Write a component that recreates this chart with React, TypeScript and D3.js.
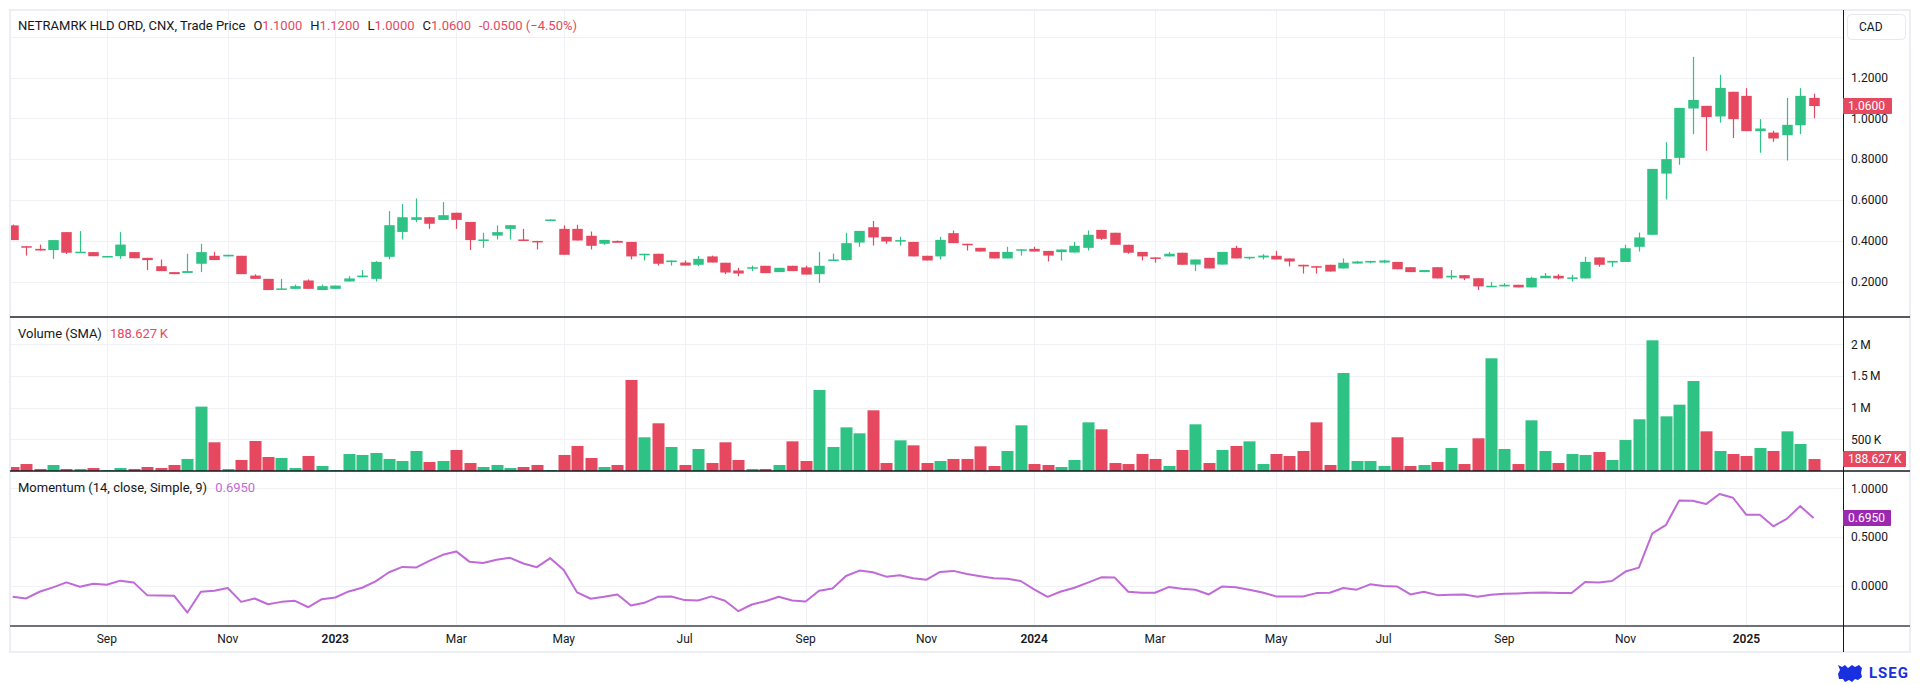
import * as React from 'react';
import * as d3 from 'd3';

// weekly bars, NETRAMRK HLD ORD (CNX), Jul 2022 .. Feb 2025
const opens = [
    0.475, 0.373, 0.360, 0.354, 0.442, 0.343, 0.344, 0.322, 0.324, 0.344,
    0.316, 0.275, 0.246, 0.242, 0.287, 0.326, 0.323, 0.326, 0.229, 0.213,
    0.164, 0.164, 0.205, 0.158, 0.164, 0.200, 0.221, 0.213, 0.321, 0.443,
    0.502, 0.515, 0.502, 0.537, 0.492, 0.400, 0.425, 0.458, 0.406, 0.399,
    0.502, 0.458, 0.458, 0.424, 0.385, 0.399, 0.394, 0.329, 0.336, 0.295,
    0.293, 0.282, 0.323, 0.292, 0.254, 0.264, 0.277, 0.246, 0.277, 0.269,
    0.236, 0.303, 0.305, 0.391, 0.466, 0.419, 0.396, 0.394, 0.326, 0.323,
    0.437, 0.385, 0.365, 0.345, 0.313, 0.352, 0.360, 0.350, 0.344, 0.342,
    0.365, 0.453, 0.439, 0.380, 0.345, 0.318, 0.323, 0.341, 0.283, 0.316,
    0.283, 0.365, 0.314, 0.318, 0.326, 0.313, 0.282, 0.275, 0.282, 0.264,
    0.288, 0.293, 0.293, 0.296, 0.270, 0.246, 0.270, 0.220, 0.231, 0.216,
    0.176, 0.176, 0.184, 0.171, 0.216, 0.228, 0.215, 0.215, 0.318, 0.293,
    0.296, 0.370, 0.429, 0.729, 0.806, 1.048, 1.061, 1.009, 1.130, 1.110,
    0.937, 0.930, 0.917, 0.966, 1.100,
];
const highs = [
    0.479, 0.373, 0.381, 0.403, 0.442, 0.447, 0.344, 0.325, 0.442, 0.344,
    0.316, 0.308, 0.246, 0.336, 0.385, 0.345, 0.331, 0.326, 0.235, 0.213,
    0.213, 0.185, 0.210, 0.185, 0.180, 0.226, 0.256, 0.300, 0.545, 0.579,
    0.607, 0.515, 0.589, 0.537, 0.492, 0.439, 0.475, 0.476, 0.458, 0.399,
    0.505, 0.475, 0.478, 0.445, 0.404, 0.401, 0.394, 0.336, 0.336, 0.303,
    0.303, 0.324, 0.327, 0.292, 0.267, 0.278, 0.277, 0.267, 0.277, 0.277,
    0.345, 0.337, 0.439, 0.448, 0.497, 0.419, 0.419, 0.394, 0.326, 0.419,
    0.450, 0.385, 0.365, 0.345, 0.370, 0.358, 0.370, 0.350, 0.357, 0.394,
    0.450, 0.453, 0.439, 0.380, 0.345, 0.318, 0.345, 0.341, 0.308, 0.316,
    0.345, 0.375, 0.321, 0.334, 0.350, 0.313, 0.282, 0.275, 0.282, 0.313,
    0.301, 0.301, 0.306, 0.296, 0.270, 0.256, 0.270, 0.256, 0.231, 0.216,
    0.197, 0.192, 0.184, 0.223, 0.242, 0.236, 0.233, 0.321, 0.318, 0.301,
    0.380, 0.440, 0.752, 0.883, 1.051, 1.301, 1.061, 1.213, 1.130, 1.148,
    0.996, 0.939, 1.100, 1.148, 1.120,
];
const lows = [
    0.403, 0.327, 0.352, 0.311, 0.335, 0.343, 0.324, 0.322, 0.311, 0.314,
    0.256, 0.251, 0.236, 0.242, 0.246, 0.305, 0.323, 0.236, 0.213, 0.158,
    0.163, 0.164, 0.164, 0.158, 0.164, 0.200, 0.221, 0.200, 0.308, 0.406,
    0.491, 0.458, 0.502, 0.458, 0.354, 0.365, 0.406, 0.406, 0.399, 0.357,
    0.502, 0.331, 0.401, 0.357, 0.380, 0.390, 0.308, 0.303, 0.278, 0.278,
    0.278, 0.275, 0.293, 0.236, 0.226, 0.251, 0.241, 0.246, 0.251, 0.234,
    0.193, 0.303, 0.303, 0.370, 0.376, 0.385, 0.376, 0.323, 0.303, 0.308,
    0.388, 0.352, 0.347, 0.313, 0.313, 0.327, 0.347, 0.298, 0.303, 0.342,
    0.352, 0.404, 0.380, 0.336, 0.303, 0.292, 0.323, 0.282, 0.251, 0.264,
    0.283, 0.313, 0.308, 0.308, 0.308, 0.274, 0.239, 0.239, 0.249, 0.264,
    0.288, 0.290, 0.290, 0.260, 0.246, 0.246, 0.215, 0.210, 0.207, 0.158,
    0.176, 0.176, 0.171, 0.171, 0.216, 0.210, 0.200, 0.215, 0.272, 0.272,
    0.296, 0.347, 0.429, 0.602, 0.772, 0.922, 0.841, 0.979, 0.903, 0.937,
    0.831, 0.885, 0.793, 0.922, 1.000,
];
const closes = [
    0.403, 0.370, 0.352, 0.403, 0.341, 0.346, 0.324, 0.325, 0.381, 0.314,
    0.305, 0.251, 0.236, 0.251, 0.344, 0.305, 0.331, 0.236, 0.213, 0.158,
    0.166, 0.177, 0.164, 0.177, 0.180, 0.215, 0.229, 0.296, 0.476, 0.515,
    0.515, 0.483, 0.525, 0.502, 0.403, 0.406, 0.442, 0.476, 0.399, 0.393,
    0.504, 0.331, 0.401, 0.375, 0.404, 0.390, 0.323, 0.336, 0.287, 0.303,
    0.278, 0.311, 0.293, 0.244, 0.239, 0.270, 0.241, 0.267, 0.251, 0.234,
    0.277, 0.308, 0.388, 0.448, 0.416, 0.396, 0.403, 0.323, 0.303, 0.404,
    0.388, 0.378, 0.347, 0.313, 0.345, 0.358, 0.347, 0.327, 0.357, 0.375,
    0.429, 0.409, 0.380, 0.341, 0.323, 0.311, 0.336, 0.282, 0.308, 0.264,
    0.345, 0.313, 0.321, 0.327, 0.308, 0.298, 0.274, 0.269, 0.249, 0.292,
    0.298, 0.301, 0.303, 0.260, 0.246, 0.256, 0.215, 0.228, 0.215, 0.176,
    0.179, 0.184, 0.171, 0.218, 0.228, 0.215, 0.220, 0.296, 0.282, 0.301,
    0.363, 0.416, 0.752, 0.800, 1.051, 1.090, 1.006, 1.149, 0.996, 0.937,
    0.950, 0.901, 0.968, 1.110, 1.060,
];
// thousands of shares
const volumesK = [
    63, 110, 32, 95, 32, 32, 47, 16, 47, 32,
    63, 47, 95, 190, 1016, 453, 32, 174, 474, 221,
    205, 47, 237, 79, 16, 268, 253, 284, 190, 158,
    316, 142, 158, 332, 126, 63, 95, 47, 63, 95,
    16, 253, 395, 205, 63, 95, 1437, 532, 753, 379,
    95, 347, 126, 453, 174, 32, 32, 95, 468, 158,
    1279, 379, 689, 595, 958, 126, 484, 405, 126, 158,
    190, 190, 389, 79, 316, 721, 110, 95, 63, 174,
    768, 658, 126, 110, 268, 190, 79, 332, 737, 126,
    332, 395, 468, 110, 268, 237, 316, 768, 95, 1547,
    158, 158, 79, 532, 79, 95, 142, 363, 110, 516,
    1779, 347, 110, 800, 316, 126, 268, 253, 300, 174,
    489, 816, 2063, 863, 1047, 1421, 626, 316, 268, 237,
    363, 316, 626, 426, 188.627,
];
const momentum = [
    -0.114, -0.131, -0.062, -0.017, 0.034, -0.010, 0.021, 0.010, 0.052, 0.034,
    -0.097, -0.100, -0.103, -0.276, -0.062, -0.052, -0.024, -0.166, -0.131, -0.190,
    -0.166, -0.155, -0.221, -0.138, -0.121, -0.059, -0.021, 0.045, 0.138, 0.193,
    0.186, 0.255, 0.317, 0.352, 0.245, 0.234, 0.266, 0.286, 0.228, 0.190,
    0.283, 0.162, -0.069, -0.134, -0.114, -0.090, -0.203, -0.176, -0.114, -0.110,
    -0.148, -0.152, -0.110, -0.155, -0.262, -0.193, -0.159, -0.114, -0.152, -0.162,
    -0.052, -0.028, 0.100, 0.155, 0.138, 0.093, 0.107, 0.076, 0.062, 0.141,
    0.152, 0.121, 0.097, 0.076, 0.072, 0.048, -0.038, -0.114, -0.059, -0.021,
    0.031, 0.086, 0.083, -0.062, -0.072, -0.072, -0.014, -0.031, -0.041, -0.090,
    -0.007, -0.017, -0.041, -0.069, -0.110, -0.110, -0.110, -0.076, -0.072, -0.024,
    -0.041, 0.014, -0.003, -0.007, -0.090, -0.062, -0.097, -0.093, -0.090, -0.114,
    -0.093, -0.083, -0.079, -0.072, -0.069, -0.076, -0.076, 0.038, 0.034, 0.048,
    0.145, 0.186, 0.538, 0.621, 0.876, 0.872, 0.838, 0.941, 0.903, 0.728,
    0.728, 0.610, 0.686, 0.817, 0.695,
];

const tickBars = [7, 16, 24, 33, 41, 50, 59, 68, 76, 85, 94, 102, 111, 120, 129];
const tickLabels = ['Sep', 'Nov', '2023', 'Mar', 'May', 'Jul', 'Sep', 'Nov', '2024', 'Mar', 'May', 'Jul', 'Sep', 'Nov', '2025'];
const priceTicks = [0.2, 0.4, 0.6, 0.8, 1.0, 1.2];
const priceGrid = [0.2, 0.4, 0.6, 0.8, 1.0, 1.2, 1.4];
const volumeTicks = [500000, 1000000, 1500000, 2000000];
const volumeLabels = ['500\u2009K', '1\u2009M', '1.5\u2009M', '2\u2009M'];
const momentumTicks = [0, 0.5, 1];

const upColor = '#2ec285';
const downColor = '#e5485f';
const momColor = '#c06ad8';
const textColor = '#131722';
const gridColor = '#f0f1f4';
const font = 'Roboto, "Noto Sans", sans-serif';

const App: React.FunctionComponent = () => {
    const ref = React.useRef<SVGSVGElement>(null);

    React.useEffect(() => {
        if (!ref.current) {
            return;
        }
        const svg = d3.select(ref.current);
        svg.selectAll('*').remove();

        const plotLeft = 10;
        const plotRight = 1843;
        const priceTop = 10, priceBottom = 317;
        const volBottom = 471;
        const momBottom = 626;
        const frameBottom = 652;
        const axisX = 1851;

        const n = closes.length;
        const bars = d3.range(n);
        const x = d3.scaleLinear().domain([0, n - 1]).range([12.7, 1813.6]);
        const yPrice = d3.scaleLinear().domain([0.2, 1.2]).range([281.5, 77.5]);
        const yVol = d3.scaleLinear().domain([0, 2000000]).range([volBottom, 344.3]);
        const yMom = d3.scaleLinear().domain([0, 1]).range([585.7, 488.3]);
        const isUp = (i: number) => closes[i] >= opens[i];

        const defs = svg.append('defs');
        const clip = (id: string, y0: number, y1: number) => {
            defs.append('clipPath').attr('id', id)
                .append('rect').attr('x', plotLeft).attr('y', y0)
                .attr('width', plotRight - plotLeft).attr('height', y1 - y0);
        };
        clip('clip-price', priceTop, priceBottom);
        clip('clip-vol', priceBottom, volBottom);
        clip('clip-mom', volBottom, momBottom);

        svg.append('rect').attr('width', 1920).attr('height', 684).attr('fill', '#fff');

        // grid
        const grid = svg.append('g');
        grid.selectAll('line.vgrid')
            .data(tickBars)
            .join('line').attr('class', 'vgrid')
            .attr('x1', d => Math.round(x(d)) + 0.5).attr('x2', d => Math.round(x(d)) + 0.5)
            .attr('y1', priceTop).attr('y2', momBottom)
            .attr('stroke', gridColor);
        grid.selectAll('line.pgrid')
            .data(priceGrid)
            .join('line').attr('class', 'pgrid')
            .attr('x1', plotLeft).attr('x2', plotRight)
            .attr('y1', d => Math.round(yPrice(d)) + 0.5).attr('y2', d => Math.round(yPrice(d)) + 0.5)
            .attr('stroke', gridColor);
        grid.selectAll('line.vlgrid')
            .data(volumeTicks)
            .join('line').attr('class', 'vlgrid')
            .attr('x1', plotLeft).attr('x2', plotRight)
            .attr('y1', d => Math.round(yVol(d)) + 0.5).attr('y2', d => Math.round(yVol(d)) + 0.5)
            .attr('stroke', gridColor);
        grid.selectAll('line.mgrid')
            .data(momentumTicks)
            .join('line').attr('class', 'mgrid')
            .attr('x1', plotLeft).attr('x2', plotRight)
            .attr('y1', d => Math.round(yMom(d)) + 0.5).attr('y2', d => Math.round(yMom(d)) + 0.5)
            .attr('stroke', gridColor);

        // candles
        const candles = svg.append('g').attr('clip-path', 'url(#clip-price)');
        const bodyW = 10.5;
        candles.selectAll('line.wick')
            .data(bars)
            .join('line').attr('class', 'wick')
            .attr('x1', i => Math.round(x(i)) + 0.5).attr('x2', i => Math.round(x(i)) + 0.5)
            .attr('y1', i => yPrice(highs[i])).attr('y2', i => yPrice(lows[i]))
            .attr('stroke', i => isUp(i) ? upColor : downColor)
            .attr('stroke-width', 1.2);
        candles.selectAll('rect.body')
            .data(bars)
            .join('rect').attr('class', 'body')
            .attr('x', i => Math.round(x(i)) + 0.5 - bodyW / 2)
            .attr('width', bodyW)
            .attr('y', i => yPrice(Math.max(opens[i], closes[i])))
            .attr('height', i => Math.max(1.5, Math.abs(yPrice(opens[i]) - yPrice(closes[i]))))
            .attr('fill', i => isUp(i) ? upColor : downColor);

        // volume
        const volG = svg.append('g').attr('clip-path', 'url(#clip-vol)');
        const volW = 12;
        volG.selectAll('rect.vol')
            .data(bars)
            .join('rect').attr('class', 'vol')
            .attr('x', i => Math.round(x(i)) + 0.5 - volW / 2)
            .attr('width', volW)
            .attr('y', i => yVol(volumesK[i] * 1000))
            .attr('height', i => volBottom - yVol(volumesK[i] * 1000))
            .attr('fill', i => isUp(i) ? upColor : downColor);

        // momentum
        const line = d3.line<number>().x(i => x(i)).y(i => yMom(momentum[i]));
        svg.append('g').attr('clip-path', 'url(#clip-mom)')
            .append('path')
            .attr('d', line(bars) as string)
            .attr('fill', 'none')
            .attr('stroke', momColor)
            .attr('stroke-width', 2)
            .attr('stroke-linejoin', 'round');

        // separators and frame
        svg.append('rect')
            .attr('x', 10).attr('y', 10).attr('width', 1900).attr('height', frameBottom - 10)
            .attr('fill', 'none').attr('stroke', '#eceef3').attr('stroke-width', 2);
        svg.append('line').attr('x1', plotLeft).attr('x2', 1910).attr('y1', priceBottom).attr('y2', priceBottom)
            .attr('stroke', '#55585f').attr('stroke-width', 2);
        svg.append('line').attr('x1', plotLeft).attr('x2', 1910).attr('y1', volBottom).attr('y2', volBottom)
            .attr('stroke', '#131722').attr('stroke-width', 1.5);
        svg.append('line').attr('x1', plotLeft).attr('x2', 1910).attr('y1', momBottom).attr('y2', momBottom)
            .attr('stroke', '#6f727b').attr('stroke-width', 2);
        svg.append('line').attr('x1', plotRight + 0.5).attr('x2', plotRight + 0.5).attr('y1', 10).attr('y2', frameBottom)
            .attr('stroke', '#131722').attr('stroke-width', 1);

        const axisText = (g: d3.Selection<SVGGElement, unknown, null, undefined>) =>
            g.attr('font-family', font).attr('font-size', 12).attr('fill', textColor);

        // price axis
        const pAxis = svg.append('g').call(axisText);
        pAxis.selectAll('text')
            .data(priceTicks)
            .join('text')
            .attr('x', axisX).attr('y', d => yPrice(d))
            .attr('dy', '0.35em')
            .text(d => d3.format('.4f')(d));
        // volume axis
        const vAxis = svg.append('g').call(axisText);
        vAxis.selectAll('text')
            .data(volumeTicks)
            .join('text')
            .attr('x', axisX).attr('y', d => yVol(d))
            .attr('dy', '0.35em')
            .text((d, i) => volumeLabels[i]);
        // momentum axis
        const mAxis = svg.append('g').call(axisText);
        mAxis.selectAll('text')
            .data(momentumTicks)
            .join('text')
            .attr('x', axisX).attr('y', d => yMom(d))
            .attr('dy', '0.35em')
            .text(d => d3.format('.4f')(d));
        // time axis
        const tAxis = svg.append('g').call(axisText);
        tAxis.selectAll('text')
            .data(tickBars)
            .join('text')
            .attr('x', d => x(d)).attr('y', 639)
            .attr('dy', '0.35em')
            .attr('text-anchor', 'middle')
            .attr('font-weight', (d, i) => /^\d+$/.test(tickLabels[i]) ? 600 : 400)
            .text((d, i) => tickLabels[i]);

        // last value tags
        const tag = (y: number, w: number, fill: string, label: string) => {
            const g = svg.append('g');
            g.append('rect').attr('x', plotRight).attr('y', y - 8).attr('width', w).attr('height', 16)
                .attr('rx', 1).attr('fill', fill);
            g.append('text').attr('x', plotRight + 5).attr('y', y).attr('dy', '0.35em')
                .attr('font-family', font).attr('font-size', 12).attr('fill', '#fff').text(label);
        };
        const last = n - 1;
        tag(yPrice(closes[last]), 49, downColor, d3.format('.4f')(closes[last]));
        tag(yVol(volumesK[last] * 1000), 63, downColor, d3.format('.3f')(volumesK[last]) + '\u2009K');
        tag(yMom(momentum[last]), 48, '#9c27b0', d3.format('.4f')(momentum[last]));

        // CAD button
        svg.append('rect').attr('x', 1847.5).attr('y', 14.5).attr('width', 58).attr('height', 25).attr('rx', 4)
            .attr('fill', '#fff').attr('stroke', '#e6e8ee');
        svg.append('text').attr('x', 1859).attr('y', 27).attr('dy', '0.35em')
            .attr('font-family', font).attr('font-size', 12).attr('fill', textColor).text('CAD');

        // legends
        const legend = (y: number) => svg.append('text').attr('x', 18).attr('y', y).attr('dy', '0.35em')
            .attr('font-family', font).attr('font-size', 13).attr('fill', textColor);
        const l1 = legend(25);
        l1.append('tspan').text('NETRAMRK HLD ORD, CNX, Trade Price');
        const ohlc: [string, number][] = [['O', opens[last]], ['H', highs[last]], ['L', lows[last]], ['C', closes[last]]];
        ohlc.forEach(([k, v]) => {
            l1.append('tspan').attr('dx', 8).text(k);
            l1.append('tspan').attr('fill', downColor).text(d3.format('.4f')(v));
        });
        const chg = closes[last] - closes[last - 1];
        l1.append('tspan').attr('dx', 8).attr('fill', downColor)
            .text(`${d3.format('.4f')(chg).replace('−', '-')} (${d3.format('.2%')(chg / closes[last - 1])})`);

        const l2 = legend(333);
        l2.append('tspan').text('Volume (SMA)');
        l2.append('tspan').attr('dx', 8).attr('fill', downColor).text(d3.format('.3f')(volumesK[last]) + '\u2009K');

        const l3 = legend(487);
        l3.append('tspan').text('Momentum (14, close, Simple, 9)');
        l3.append('tspan').attr('dx', 8).attr('fill', momColor).text(d3.format('.4f')(momentum[last]));

        // LSEG mark
        const logo = svg.append('g').attr('fill', '#1a2fe0');
        logo.append('path')
            .attr('d', 'M1838,665 l4,2 l3,-2 l3,3 l4,-3 l3,2 l4,-2 l3,3 l-1,5 l1,4 l-4,3 l-3,-1 l-3,3 l-3,-2 l-4,2 l-2,-3 l-4,0 l-1,-5 l2,-4 z');
        logo.append('text').attr('x', 1869).attr('y', 673).attr('dy', '0.35em')
            .attr('font-family', font).attr('font-size', 15).attr('font-weight', 700)
            .attr('letter-spacing', 1).text('LSEG');
    });

    return <svg ref={ref} width={1920} height={684} style={{ position: 'absolute', left: 0, top: 0 }} />;
};

export default App;
